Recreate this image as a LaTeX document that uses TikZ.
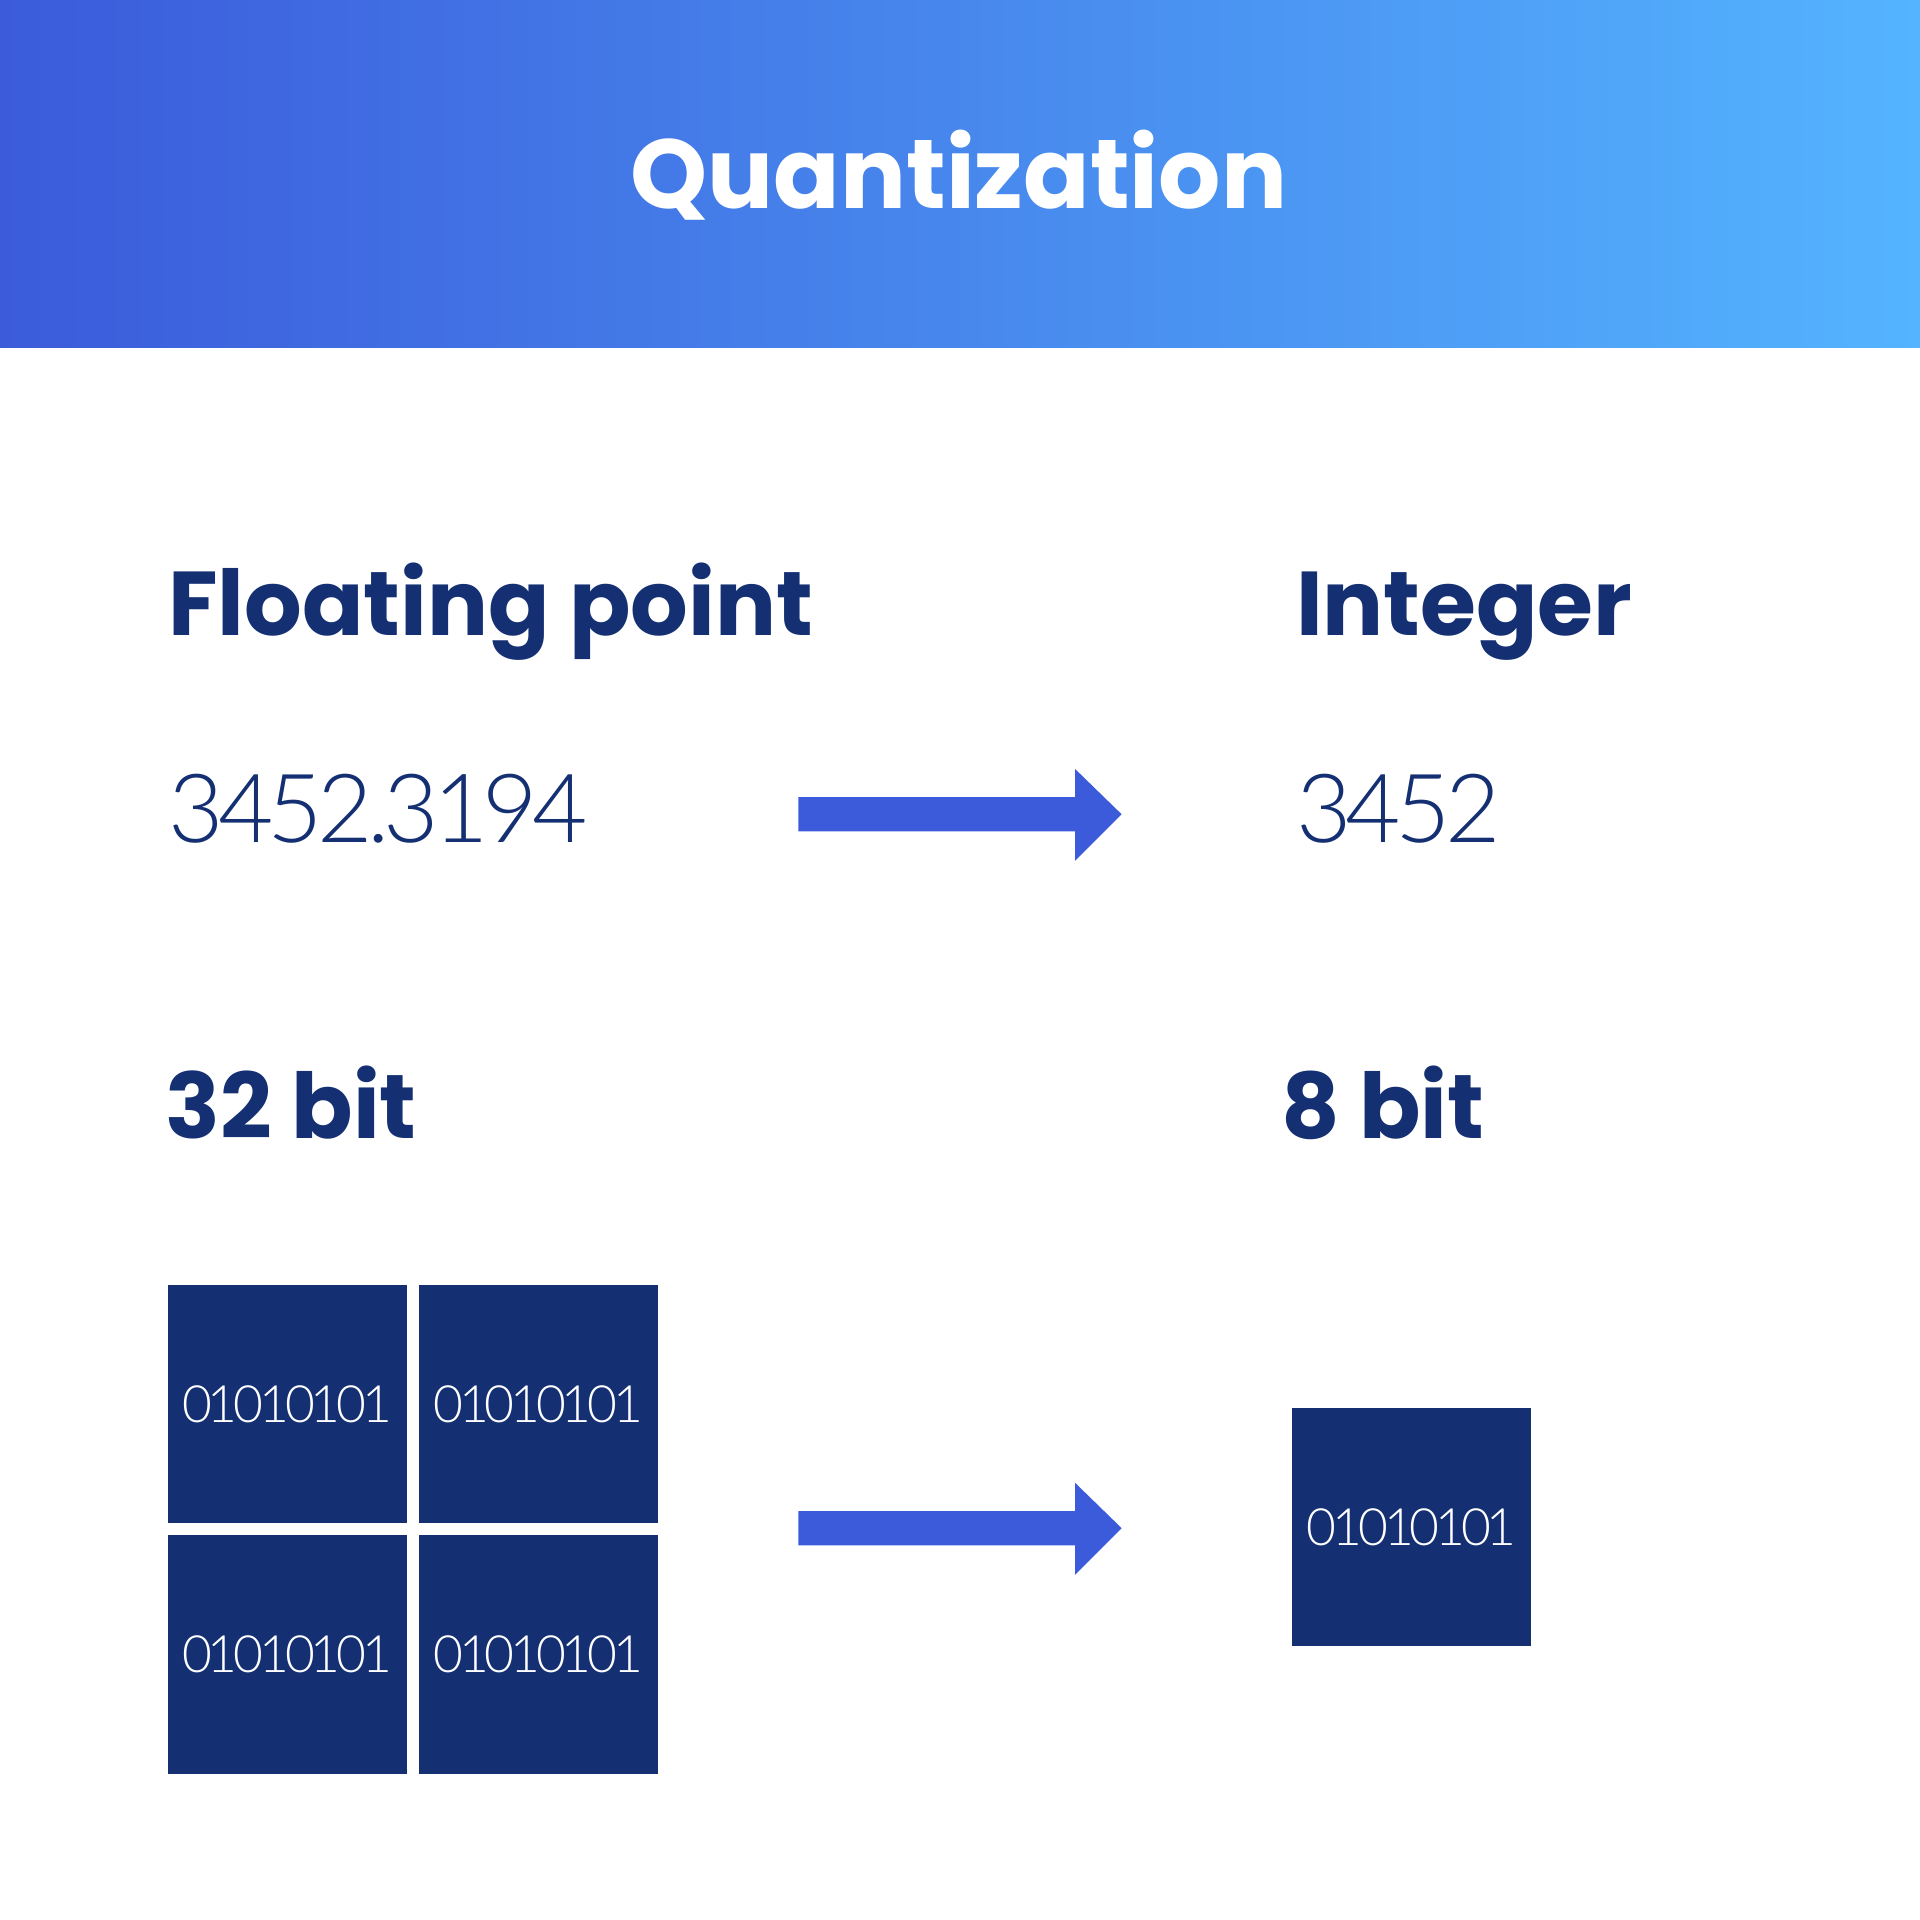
\documentclass[tikz,border=0pt]{standalone}
\usepackage{fontspec}
\setmainfont{Poppins}
\newfontfamily\thinfont{Lato}[UprightFont=* Light,LetterSpace=-6]
\newfontfamily\bitfont{Lato}[UprightFont=* Light,LetterSpace=-8]
\usetikzlibrary{positioning}
\definecolor{navy}{RGB}{20,48,115}
\definecolor{arrowblue}{RGB}{59,91,219}
\definecolor{bandleft}{RGB}{59,91,219}
\definecolor{bandright}{RGB}{84,180,255}
\tikzset{
  heading/.style={anchor=base west,inner sep=0pt,text=navy,font=\fontsize{37}{37}\selectfont\bfseries},
  number/.style={anchor=base west,inner sep=0pt,text=navy,font=\thinfont\fontsize{39}{39}\selectfont},
  bits/.style={fill=navy,minimum size=97.5pt,inner sep=0pt,text=white,font=\bitfont\fontsize{21}{21}\selectfont},
  bigarrow/.style={fill=arrowblue}
}
\begin{document}
\begin{tikzpicture}[x=0.5pt,y=0.5pt,yscale=-1]
\useasboundingbox (0,0) rectangle (1568,1568);
\fill[white] (0,0) rectangle (1568,1568);
% header band
\shade[left color=bandleft,right color=bandright] (0,0) rectangle (1568,284);
\node[text=white,font=\fontsize{40}{40}\selectfont\bfseries] (title) at (783,143) {Quantization};

\node[heading] (float) at (137,519) {Floating point};
\node[heading] (int) at (1058,519) {Integer};
\node[number] (fval) at (137,688) {3452.3194};
\node[number] (ival) at (1058,688) {3452};
\node[heading] (fbits) at (135,930) {32 bit};
\node[heading] (ibits) at (1046,930) {8 bit};

% arrows
\foreach \y in {665,1248}
  \fill[bigarrow] (652,\y-14) -- (878,\y-14) -- (878,\y-37) -- (916,\y) -- (878,\y+38) -- (878,\y+14) -- (652,\y+14) -- cycle;

% bit blocks
\node[bits] (b1) at (234.5,1146.5) {01010101};
\node[bits] (b2) at (439.5,1146.5) {01010101};
\node[bits] (b3) at (234.5,1351) {01010101};
\node[bits] (b4) at (439.5,1351) {01010101};
\node[bits] (b5) at (1153,1247) {01010101};
\end{tikzpicture}
\end{document}
